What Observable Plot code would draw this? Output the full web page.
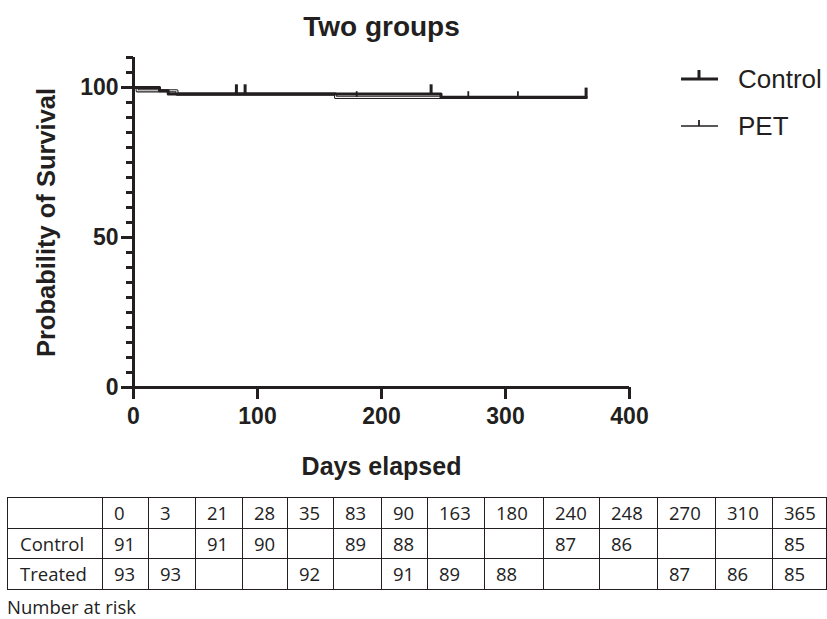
<!DOCTYPE html>
<html>
<head>
<meta charset="utf-8">
<script src="https://cdn.jsdelivr.net/npm/d3@7"></script>
<script src="https://cdn.jsdelivr.net/npm/@observablehq/plot@0.6"></script>
<style>
  html, body { margin: 0; padding: 0; background: #fff; }
  #wrap { position: relative; width: 827px; height: 619px; overflow: hidden; font-family: "Liberation Sans", Arial, sans-serif; }
  #chart svg { display: block; }
  #chart text { font-family: "Liberation Sans", Arial, sans-serif; }
  #legend { position: absolute; left: 670px; top: 60px; }
  #risk { position: absolute; left: 7px; top: 497px; border-collapse: collapse; table-layout: fixed;
          font-family: "Open Sans", "Noto Sans", sans-serif; font-size: 18.5px; color: #222; }
  #risk td { border: 1.5px solid #231f20; height: 29.5px; padding: 0 0 0 11px; line-height: 29px; white-space: nowrap; overflow: hidden; }
  #risk td.lab { padding-left: 12px; }
  #note { position: absolute; left: 7px; top: 594px; font-family: "Open Sans", "Noto Sans", sans-serif; font-size: 18.5px; color: #222; }
</style>
</head>
<body>
<div id="wrap">
  <div id="chart"></div>
  <div id="legend"></div>
  <table id="risk"></table>
  <div id="note">Number at risk</div>
</div>
<script>
// ---- data ----
const controlDays = [0, 21, 28, 248, 365];
const controlSurv = [100, 98.9, 97.8, 96.7, 96.7];
const petDays = [0, 3, 35, 163, 365];
const petSurv = [100, 98.9, 97.8, 96.7, 96.7];
const controlCensorDays = [83, 90, 240, 365];
const controlCensorSurv = [97.8, 97.8, 97.8, 96.7];
const petCensorDays = [180, 270, 310];
const petCensorSurv = [96.7, 96.7, 96.7];
const xTicks = [0, 100, 200, 300, 400];
const yTicks = [0, 50, 100];
const yMinorTicks = [5,10,15,20,25,30,35,40,45,55,60,65,70,75,80,85,90,95,105,110];
const groups = ["Control", "PET"];
const riskTimes = [0, 3, 21, 28, 35, 83, 90, 163, 180, 240, 248, 270, 310, 365];
const riskControl = [91, null, 91, 90, null, 89, 88, null, null, 87, 86, null, null, 85];
const riskTreated = [93, 93, null, null, 92, null, 91, 89, 88, null, null, 87, 86, 85];
const riskRowLabels = ["Control", "Treated"];

const ink = "#231f20";
const controlData = controlDays.map((d, i) => ({day: d, surv: controlSurv[i]}));
const petData = petDays.map((d, i) => ({day: d, surv: petSurv[i]}));
const controlCensor = controlCensorDays.map((d, i) => ({day: d, surv: controlCensorSurv[i]}));
const petCensor = petCensorDays.map((d, i) => ({day: d, surv: petCensorSurv[i]}));

const chart = Plot.plot({
  width: 827,
  height: 495,
  marginLeft: 133,
  marginRight: 198,
  marginTop: 57,
  marginBottom: 108,
  style: {fontSize: "23px", fontWeight: "bold"},
  x: {domain: [0, 400], label: null},
  y: {domain: [0, 110], label: null},
  marks: [
    Plot.axisY(yMinorTicks, {tickSize: 7, tickFormat: () => "", stroke: ink, strokeWidth: 3}),
    Plot.axisY(yTicks, {tickSize: 12, tickPadding: 3, stroke: ink, strokeWidth: 3, fill: ink,
      fontSize: 23, fontWeight: "bold"}),
    Plot.axisX(xTicks, {tickSize: 12, tickPadding: 8, stroke: ink, strokeWidth: 3, fill: ink,
      fontSize: 23, fontWeight: "bold"}),
    Plot.ruleX([0], {y1: 0, y2: 110, stroke: ink, strokeWidth: 3}),
    Plot.ruleY([0], {x1: 0, x2: 400, stroke: ink, strokeWidth: 3}),
    // PET (outlined thin line)
    Plot.line(petData, {x: "day", y: "surv", curve: "step-after", stroke: ink, strokeWidth: 3.2}),
    Plot.line(petData, {x: "day", y: "surv", curve: "step-after", stroke: "#f2f2f2", strokeWidth: 1.1}),
    Plot.ruleX(petCensor, {x: "day", y1: "surv", y2: d => d.surv + 1.9, stroke: ink, strokeWidth: 1.8}),
    // Control (thick line)
    Plot.line(controlData, {x: "day", y: "surv", curve: "step-after", stroke: ink, strokeWidth: 3}),
    Plot.ruleX(controlCensor, {x: "day", y1: "surv", y2: d => d.surv + 3.1, stroke: ink, strokeWidth: 3}),
    // titles
    Plot.text(["Two groups"], {frameAnchor: "top", lineAnchor: "middle", textAnchor: "middle", dy: -30, fontSize: 28, fontWeight: "bold", fill: ink}),
    Plot.text(["Days elapsed"], {frameAnchor: "bottom", lineAnchor: "middle", textAnchor: "middle", dy: 79, fontSize: 25, fontWeight: "bold", fill: ink}),
    Plot.text(["Probability of Survival"], {frameAnchor: "left", lineAnchor: "middle", textAnchor: "middle", rotate: -90, dx: -87, fontSize: 25.5, fontWeight: "bold", fill: ink})
  ]
});
document.getElementById("chart").appendChild(chart);

// ---- legend ----
const leg = d3.select("#legend").append("svg").attr("width", 157).attr("height", 90);
const legStyles = [
  {lw: 3, th: 9, tw: 3},
  {lw: 1.5, th: 6, tw: 1.8}
];
groups.forEach((g, i) => {
  const y = 19 + i * 47;
  const s = legStyles[i];
  leg.append("line").attr("x1", 11).attr("x2", 48).attr("y1", y).attr("y2", y)
    .attr("stroke", ink).attr("stroke-width", s.lw);
  leg.append("line").attr("x1", 29).attr("x2", 29).attr("y1", y - s.th).attr("y2", y)
    .attr("stroke", ink).attr("stroke-width", s.tw);
  leg.append("text").attr("x", 68).attr("y", y + 9).text(g)
    .attr("font-family", "Liberation Sans, Arial, sans-serif").attr("font-size", 26).attr("fill", ink);
});

// ---- number at risk table ----
const colWidths = [95, 46, 47, 47, 45, 46, 48, 46, 57, 59, 56, 58, 58, 57, 54];
const table = d3.select("#risk");
const cg = table.append("colgroup");
colWidths.forEach(w => cg.append("col").style("width", w + "px"));
const rows = [
  ["", ...riskTimes],
  [riskRowLabels[0], ...riskControl],
  [riskRowLabels[1], ...riskTreated]
];
rows.forEach(r => {
  const tr = table.append("tr");
  r.forEach((v, j) => tr.append("td").attr("class", j === 0 ? "lab" : null).text(v == null ? "" : v));
});
</script>
</body>
</html>
